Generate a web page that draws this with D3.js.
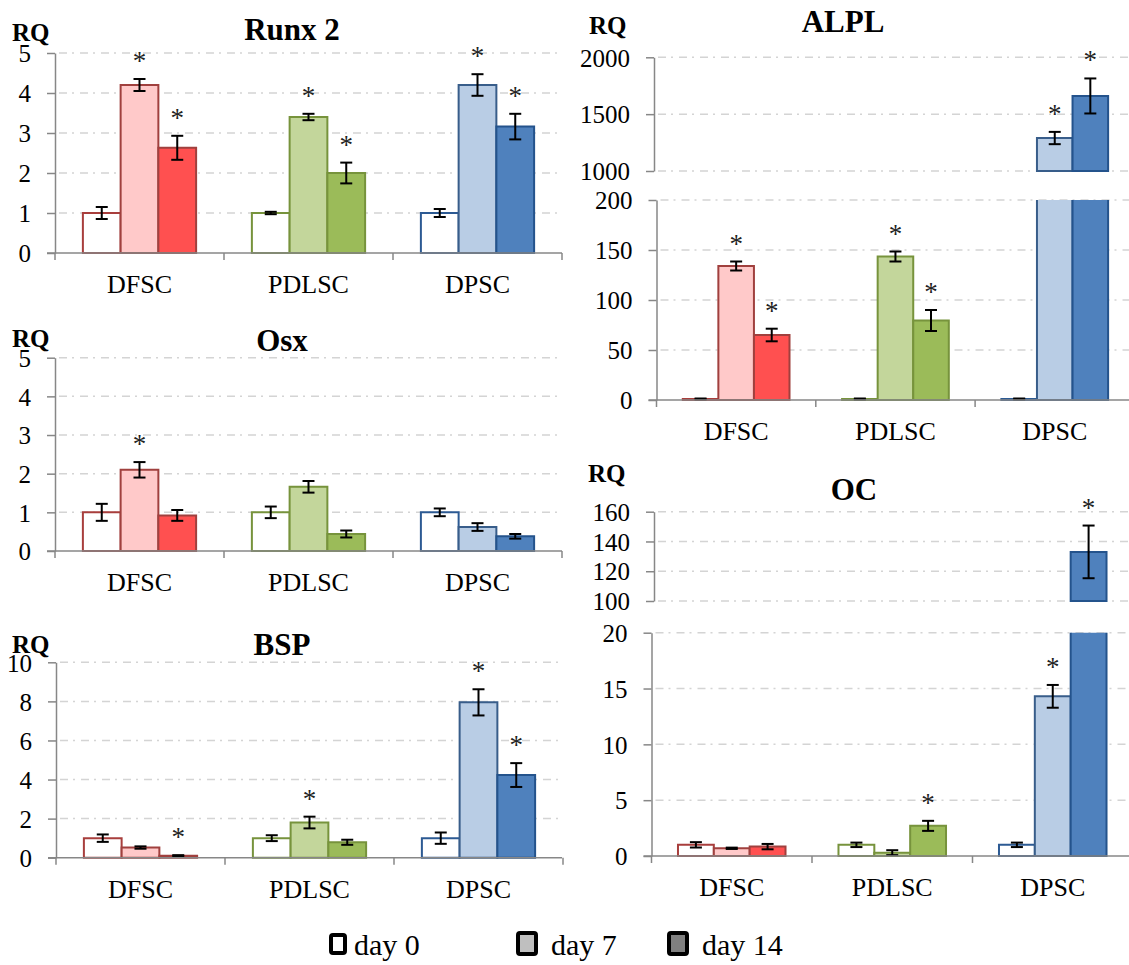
<!DOCTYPE html>
<meta charset="utf-8">
<html>
<head>
<style>
  body { margin: 0; background: #fff; }
  svg { display: block; font-family: "Liberation Serif", "Times New Roman", serif; }
  .grid { stroke: #d4d4d4; stroke-width: 1.5px; stroke-dasharray: 8,5,2,6; }
  .axis-line { stroke: #878787; stroke-width: 1.5px; fill: none; }
  .axis path, .axis line { stroke: #878787; stroke-width: 1.5px; }
  .axis text { font-family: "Liberation Serif", "Times New Roman", serif !important; font-size: 25px !important; fill: #000; }
  .err { stroke: #000; stroke-width: 2px; }
  .cat { font-size: 26px; text-anchor: middle; }
  .title { font-size: 31px; font-weight: bold; text-anchor: middle; }
  .rq { font-size: 25px; font-weight: bold; }
  .star { font-size: 27px; text-anchor: middle; fill: #222; }
  .leg { font-size: 30px; }
</style>
</head>
<body>
<script src="https://d3js.org/d3.v7.min.js"></script>
<script>

var categories = ["DFSC", "PDLSC", "DPSC"];
var days = ["day 0", "day 7", "day 14"];

// values per category: [day 0, day 7, day 14]
var runx2Values = [[1.0, 4.2, 2.63], [1.0, 3.4, 2.0], [1.0, 4.2, 3.16]];
var runx2Errors = [[0.15, 0.15, 0.3], [0.03, 0.08, 0.26], [0.1, 0.27, 0.32]];
var runx2Stars  = [[0, 1, 1], [0, 1, 1], [0, 1, 1]];

var osxValues = [[1.0, 2.1, 0.92], [1.0, 1.66, 0.44], [1.0, 0.62, 0.38]];
var osxErrors = [[0.22, 0.2, 0.14], [0.15, 0.15, 0.09], [0.1, 0.1, 0.06]];
var osxStars  = [[0, 1, 0], [0, 0, 0], [0, 0, 0]];

var bspValues = [[1.0, 0.52, 0.1], [1.0, 1.8, 0.79], [1.0, 7.95, 4.23]];
var bspErrors = [[0.19, 0.06, 0.03], [0.15, 0.3, 0.13], [0.29, 0.67, 0.61]];
var bspStars  = [[0, 0, 1], [0, 1, 0], [0, 1, 1]];

var alplValues = [[1, 134, 65], [1, 143.5, 79.5], [1, 1290, 1660]];
var alplErrors = [[0.5, 4.5, 6.3], [0.5, 5, 10.5], [0.5, 54, 154]];
var alplStars  = [[0, 1, 1], [0, 1, 1], [0, 1, 1]];

var ocValues = [[1.0, 0.69, 0.84], [1.0, 0.3, 2.7], [1.0, 14.3, 133]];
var ocErrors = [[0.24, 0.06, 0.24], [0.2, 0.22, 0.45], [0.2, 1.02, 17.7]];
var ocStars  = [[0, 0, 0], [0, 0, 1], [0, 1, 1]];

var fills = [["#ffffff", "#ffc9c9", "#ff5050"],
             ["#ffffff", "#c3d69b", "#9bbb59"],
             ["#ffffff", "#b9cde5", "#4f81bd"]];
var strokes = [["#a83e3c", "#a0403e", "#a0403e"],
               ["#77933c", "#77933c", "#77933c"],
               ["#2c5a93", "#385d8a", "#24538c"]];

var legendFills = ["#ffffff", "#bfbfbf", "#808080"];

var serif = "'Liberation Serif', 'Times New Roman', serif";

var svg = d3.select("body").append("svg")
    .attr("width", 1129)
    .attr("height", 965);

var panels = [
  { title: "Runx 2", values: runx2Values, errors: runx2Errors, stars: runx2Stars,
    x0: 55, band: 169, right: 562, titleX: 292, titleY: 40, rqX: 12, rqY: 41,
    segments: [{ domain: [0, 5], range: [253, 53], ticks: [0, 1, 2, 3, 4, 5], axisX: 55 }] },
  { title: "Osx", values: osxValues, errors: osxErrors, stars: osxStars,
    x0: 55, band: 169, right: 562, titleX: 282, titleY: 351, rqX: 12, rqY: 347,
    segments: [{ domain: [0, 5], range: [551, 357.7], ticks: [0, 1, 2, 3, 4, 5], axisX: 55 }] },
  { title: "BSP", values: bspValues, errors: bspErrors, stars: bspStars,
    x0: 56, band: 169, right: 562, titleX: 282, titleY: 655, rqX: 12, rqY: 653,
    segments: [{ domain: [0, 10], range: [857.7, 662.3], ticks: [0, 2, 4, 6, 8, 10], axisX: 56 }] },
  { title: "ALPL", values: alplValues, errors: alplErrors, stars: alplStars,
    x0: 656.5, band: 159.3, right: 1129, titleX: 843, titleY: 32, rqX: 589, rqY: 34,
    segments: [{ domain: [0, 200], range: [400, 200], ticks: [0, 50, 100, 150, 200], axisX: 656.5 },
               { domain: [1000, 2000], range: [171, 57.3], ticks: [1000, 1500, 2000], axisX: 654 }] },
  { title: "OC", values: ocValues, errors: ocErrors, stars: ocStars,
    x0: 651.5, band: 160.5, right: 1129, titleX: 854, titleY: 500, rqX: 588, rqY: 482,
    segments: [{ domain: [0, 20], range: [856, 632.7], ticks: [0, 5, 10, 15, 20], axisX: 651.5 },
               { domain: [100, 160], range: [601, 511.7], ticks: [100, 120, 140, 160], axisX: 654 }] }
];

panels.forEach(drawPanel);

function drawPanel(p) {
  var g = svg.append("g");
  var x = d3.scaleBand().domain(categories).range([p.x0, p.x0 + 3 * p.band]);
  var bw = x.bandwidth();
  var xi = d3.scaleBand().domain(d3.range(days.length)).range([bw * 0.165, bw * 0.835]);

  var segs = p.segments.map(function (s) {
    return Object.assign({}, s, { y: d3.scaleLinear().domain(s.domain).range(s.range) });
  });

  // gridlines
  segs.forEach(function (s) {
    g.selectAll(null)
      .data(s.ticks.filter(function (t) { return t !== 0; }))
      .enter().append("line")
      .attr("class", "grid")
      .attr("x1", s.axisX + 4).attr("x2", p.right)
      .attr("y1", function (t) { return s.y(t); })
      .attr("y2", function (t) { return s.y(t); });
  });

  // bars
  var rows = [];
  p.values.forEach(function (vals, ci) {
    vals.forEach(function (v, di) {
      rows.push({ cat: categories[ci], ci: ci, di: di, v: v, e: p.errors[ci][di], star: p.stars[ci][di] });
    });
  });

  segs.forEach(function (s) {
    var lo = s.domain[0], hi = s.domain[1];
    rows.forEach(function (d) {
      if (lo > 0 && d.v <= lo) return;
      var xl = x(d.cat) + xi(d.di), w = xi.bandwidth();
      var yb = s.y(lo), yt = s.y(Math.min(d.v, hi));
      var path;
      if (d.v > hi) {
        // bar continues on the upper segment: leave the top open
        path = "M" + xl + "," + yt + "V" + yb + "H" + (xl + w) + "V" + yt;
      } else {
        path = "M" + xl + "," + yb + "V" + yt + "H" + (xl + w) + "V" + yb + "Z";
      }
      g.append("path")
        .attr("d", path)
        .attr("fill", fills[d.ci][d.di])
        .attr("stroke", strokes[d.ci][d.di])
        .attr("stroke-width", 2);
    });
  });

  // error bars and stars
  rows.forEach(function (d) {
    var s = segs.find(function (s) { return d.v >= s.domain[0] && d.v <= s.domain[1]; });
    if (!s) return;
    var cx = x(d.cat) + xi(d.di) + xi.bandwidth() / 2;
    var y1 = s.y(d.v + d.e), y2 = s.y(Math.max(d.v - d.e, s.domain[0]));
    var eg = g.append("g").attr("class", "err");
    eg.append("line").attr("x1", cx).attr("x2", cx).attr("y1", y1).attr("y2", y2);
    eg.append("line").attr("x1", cx - 6).attr("x2", cx + 6).attr("y1", y1).attr("y2", y1);
    eg.append("line").attr("x1", cx - 6).attr("x2", cx + 6).attr("y1", y2).attr("y2", y2);
    if (d.star) {
      g.append("text").attr("class", "star")
        .attr("x", cx).attr("y", y1 - 9).text("*");
    }
  });

  // y axes
  segs.forEach(function (s) {
    var ax = g.append("g")
      .attr("class", "axis")
      .attr("transform", "translate(" + s.axisX + ",0)")
      .call(d3.axisLeft(s.y).tickValues(s.ticks).tickFormat(d3.format("d"))
        .tickSize(8).tickSizeOuter(0).tickPadding(16));
    ax.attr("font-family", serif).attr("font-size", 25);
    ax.selectAll("text")
      .attr("dy", "0.35em")
      .attr("fill", "#000");
  });

  // x axis (bottom of lowest segment)
  var base = segs[0].y(0);
  g.append("line").attr("class", "axis-line")
    .attr("x1", p.x0 - 8).attr("x2", Math.min(p.x0 + 3 * p.band, p.right))
    .attr("y1", base).attr("y2", base);
  g.selectAll(null)
    .data(d3.range(categories.length + 1))
    .enter().append("line").attr("class", "axis-line")
    .attr("x1", function (i) { return p.x0 + i * bw; })
    .attr("x2", function (i) { return p.x0 + i * bw; })
    .attr("y1", base).attr("y2", base + 7);

  g.selectAll(null)
    .data(categories)
    .enter().append("text").attr("class", "cat")
    .attr("x", function (c) { return x(c) + bw / 2; })
    .attr("y", base + 40)
    .text(function (c) { return c; });

  g.append("text").attr("class", "title").attr("x", p.titleX).attr("y", p.titleY).text(p.title);
  g.append("text").attr("class", "rq").attr("x", p.rqX).attr("y", p.rqY).text("RQ");
}

// legend
var legendX = [330, 518, 669];
var leg = svg.append("g");
days.forEach(function (d, i) {
  var big = i > 0;
  leg.append("rect")
    .attr("x", legendX[i] + (big ? 0 : 1))
    .attr("y", big ? 933 : 935)
    .attr("width", big ? 18 : 14)
    .attr("height", big ? 21 : 18)
    .attr("rx", 2)
    .attr("fill", legendFills[i])
    .attr("stroke", "#000")
    .attr("stroke-width", 4);
  leg.append("text").attr("class", "leg")
    .attr("x", legendX[i] + (big ? 33 : 24))
    .attr("y", 955)
    .text(d);
});

</script>
</body>
</html>
